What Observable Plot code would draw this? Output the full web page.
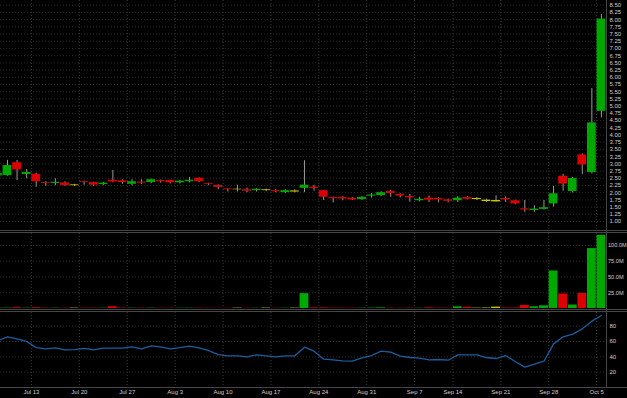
<!DOCTYPE html>
<html><head><meta charset="utf-8">
<script src="https://cdn.jsdelivr.net/npm/d3@7"></script>
<script src="https://cdn.jsdelivr.net/npm/@observablehq/plot@0.6"></script>
<style>
html,body{margin:0;padding:0;background:#000;}
#wrap{position:relative;width:627px;height:398px;background:#000;overflow:hidden;font-family:"Liberation Sans",Arial,sans-serif;}
.panel{position:absolute;left:0;width:627px;overflow:hidden;}
.sep{position:absolute;background:#464646;}
</style></head><body>
<div id="wrap">
  <div class="panel" id="price" style="top:0;height:230px"></div>
  <div class="sep" style="top:230px;left:0;width:627px;height:1px"></div>
  <div class="sep" style="top:232px;left:0;width:627px;height:1px"></div>
  <div class="panel" id="volume" style="top:233px;height:76px"></div>
  <div class="sep" style="top:309px;left:0;width:627px;height:1px"></div>
  <div class="sep" style="top:311px;left:0;width:627px;height:1px"></div>
  <div class="panel" id="rsi" style="top:312px;height:86px"></div>
  <div class="sep" style="top:387px;left:0;width:627px;height:1px"></div>
  <div class="sep" style="top:0;left:606px;width:1px;height:388px"></div>
</div>
<script>
const dates = [
 "07-07","07-08","07-09","07-10",
 "07-13","07-14","07-15","07-16","07-17",
 "07-20","07-21","07-22","07-23","07-24",
 "07-27","07-28","07-29","07-30","07-31",
 "08-03","08-04","08-05","08-06","08-07",
 "08-10","08-11","08-12","08-13","08-14",
 "08-17","08-18","08-19","08-20","08-21",
 "08-24","08-25","08-26","08-27","08-28",
 "08-31","09-01","09-02","09-03","09-04",
 "09-08","09-09","09-10","09-11",
 "09-14","09-15","09-16","09-17","09-18",
 "09-21","09-22","09-23","09-24","09-25",
 "09-28","09-29","09-30","10-01","10-02",
 "10-05"];
const open = [
 2.58,2.59,3.04,2.63,
 2.64,2.35,2.32,2.34,2.24,
 2.38,2.35,2.28,2.43,2.41,
 2.29,2.37,2.35,2.42,2.42,
 2.34,2.38,2.50,2.31,2.25,
 2.13,2.10,2.10,2.07,2.07,
 2.07,2.00,2.02,2.15,2.19,
 2.07,1.83,1.83,1.81,1.76,
 1.88,1.90,2.04,1.94,1.87,
 1.72,1.81,1.80,1.75,
 1.72,1.83,1.76,1.69,1.68,
 1.80,1.72,1.44,1.38,1.42,
 1.61,2.57,2.04,3.31,2.70,
 4.82];
const high = [
 2.72,3.12,3.12,2.80,
 2.67,2.38,2.48,2.38,2.29,
 2.40,2.36,2.36,2.77,2.44,
 2.45,2.45,2.47,2.44,2.43,
 2.43,2.53,2.51,2.33,2.27,
 2.14,2.26,2.16,2.14,2.12,
 2.10,2.10,2.10,3.11,2.25,
 2.08,1.85,1.86,1.83,1.86,
 1.97,2.03,2.08,1.96,1.94,
 1.84,1.88,1.82,1.78,
 1.86,1.86,1.83,1.78,1.89,
 1.85,1.74,1.73,1.55,1.73,
 2.22,2.64,2.53,3.34,5.61,
 8.18];
const low = [
 2.52,2.57,2.42,2.48,
 2.19,2.22,2.24,2.22,2.21,
 2.26,2.22,2.24,2.34,2.29,
 2.23,2.28,2.31,2.33,2.30,
 2.30,2.34,2.35,2.24,2.10,
 2.02,2.02,2.00,2.02,2.03,
 2.00,1.97,1.99,2.00,2.05,
 1.73,1.65,1.72,1.73,1.73,
 1.81,1.86,1.84,1.82,1.67,
 1.68,1.66,1.65,1.65,
 1.66,1.75,1.73,1.66,1.67,
 1.66,1.58,1.32,1.32,1.40,
 1.50,2.05,1.99,2.62,2.65,
 4.59];
const close = [
 2.66,2.94,2.79,2.70,
 2.38,2.32,2.36,2.25,2.27,
 2.35,2.26,2.33,2.37,2.35,
 2.38,2.33,2.45,2.38,2.34,
 2.40,2.43,2.38,2.28,2.18,
 2.10,2.12,2.05,2.12,2.10,
 2.03,2.07,2.06,2.26,2.14,
 1.84,1.79,1.78,1.75,1.84,
 1.92,2.00,1.97,1.88,1.82,
 1.77,1.74,1.75,1.70,
 1.81,1.77,1.80,1.74,1.73,
 1.75,1.61,1.40,1.43,1.48,
 1.96,2.30,2.49,2.96,4.42,
 8.02];
// u = up (green), d = down (red), n = neutral (yellow)
const dir = [
 "u","u","d","u",
 "d","d","u","d","n",
 "d","d","u","d","d",
 "u","d","u","d","d",
 "u","u","d","d","d",
 "d","n","d","u","n",
 "d","u","n","u","d",
 "d","d","d","d","u",
 "u","u","d","d","d",
 "u","d","d","d",
 "u","d","n","n","n",
 "d","d","d","u","u",
 "u","d","u","d","u",
 "u"];
const volume = [ // millions
 0.5,0.6,1.2,0.5,
 1.2,0.5,0.5,0.5,0.6,
 0.5,0.5,0.5,2.8,0.6,
 0.5,0.6,0.5,0.5,0.4,
 0.4,0.5,0.5,0.4,0.4,
 0.4,0.6,0.4,0.4,0.6,
 0.4,0.5,0.6,23.5,1.0,
 1.0,0.5,0.5,0.4,0.5,
 0.6,1.0,0.5,0.4,0.5,
 0.4,1.0,0.5,0.5,
 2.7,1.8,0.6,0.8,2.2,
 0.8,0.8,4.8,2.7,4.3,
 59.5,23.0,5.5,24.0,95.0,
 116.0];
const rsi = [
 61,66,63.5,60,
 52,50.4,51.7,49,49.5,
 51,49,51.3,51.3,51.3,
 53,50.4,54.3,53,50.4,
 52,53.9,51.7,48.2,43,
 41.3,41.3,40,42.6,41.3,
 40,41.3,41.3,52.6,47.4,
 36.9,36.1,34.8,34.3,38.7,
 41.7,47.4,46.1,40.8,39.1,
 38.3,36,36.5,35.6,
 42.6,42.6,42.6,39.1,37.8,
 41.7,33.9,26.5,30.4,34.3,
 56.9,66.1,69.6,76.5,86.5,
 93.9];
const tickDates = ["07-13","07-20","07-27","08-03","08-10","08-17","08-24","08-31","09-08","09-14","09-21","09-28","10-05"];
const tickLabels = ["Jul 13","Jul 20","Jul 27","Aug 3","Aug 10","Aug 17","Aug 24","Aug 31","Sep 7","Sep 14","Sep 21","Sep 28","Oct 5"];
const priceTicks = [1.00,1.25,1.50,1.75,2.00,2.25,2.50,2.75,3.00,3.25,3.50,3.75,4.00,4.25,4.50,4.75,5.00,5.25,5.50,5.75,6.00,6.25,6.50,6.75,7.00,7.25,7.50,7.75,8.00,8.25,8.50];
const volumeTicks = [25,50,75,100];
const rsiTicks = [20,40,60,80];

const colors = {u: "#00a800", d: "#dc0000", n: "#c8c400"};
const rows = dates.map((d, i) => ({date: d, open: open[i], high: high[i], low: low[i], close: close[i], dir: dir[i], volume: volume[i], rsi: rsi[i]}));

const SHIFT = -4.79;
const xOpt = {type: "band", domain: dates, range: [-7.0, 605.35], paddingInner: 0.08, paddingOuter: 0};
const style = {background: "#000", color: "#cfcfcf", fontSize: "6px", fontFamily: "'Liberation Sans', Arial, sans-serif"};
const gridStyle = {stroke: "#3a3a3a", strokeOpacity: 1, strokeDasharray: "1,2", strokeWidth: 1};

const price = Plot.plot({
  width: 627, height: 230, marginLeft: 0, marginRight: 21, marginTop: 0, marginBottom: 0,
  style,
  x: {...xOpt, axis: null},
  y: {domain: [0.688, 8.663], axis: "right", ticks: priceTicks, tickFormat: d => d.toFixed(2), tickSize: 0, tickPadding: 3, label: null},
  marks: [
    Plot.ruleY(priceTicks, {...gridStyle, stroke: "#2a2a2a"}),
    Plot.ruleX(tickDates, {...gridStyle, dx: SHIFT}),
    Plot.ruleX(rows, {x: "date", y1: "low", y2: "high", stroke: "#9a9a9a", strokeWidth: 1, clip: true}),
    Plot.barY(rows, {x: "date", y1: "open", y2: "close", fill: d => colors[d.dir], clip: true})
  ]
});
document.getElementById("price").appendChild(price);

const vol = Plot.plot({
  width: 627, height: 76, marginLeft: 0, marginRight: 21, marginTop: 0, marginBottom: 1,
  style: {...style, fontSize: "5.6px"},
  x: {...xOpt, axis: null},
  y: {domain: [0, 118.9], axis: "right", ticks: volumeTicks, tickFormat: d => d.toFixed(1) + "M", tickSize: 0, tickPadding: 1.5, label: null},
  marks: [
    Plot.ruleY(volumeTicks, {...gridStyle, stroke: "#2a2a2a"}),
    Plot.ruleX(tickDates, {...gridStyle, dx: SHIFT}),
    Plot.barY(rows, {x: "date", y: "volume", fill: d => colors[d.dir], clip: true})
  ]
});
document.getElementById("volume").appendChild(vol);

const rsiPlot = Plot.plot({
  width: 627, height: 86, marginLeft: 0, marginRight: 21, marginTop: 0, marginBottom: 11,
  style,
  x: {...xOpt, axis: null},
  y: {domain: [0, 97.8], axis: "right", ticks: rsiTicks, tickFormat: d => String(d), tickSize: 0, tickPadding: 3, label: null},
  marks: [
    Plot.ruleY(rsiTicks, {...gridStyle, stroke: "#2a2a2a"}),
    Plot.ruleX(tickDates, {...gridStyle, dx: SHIFT}),
    Plot.line(rows, {x: "date", y: "rsi", stroke: "#1c5e9e", strokeWidth: 1.3, clip: true}),
    Plot.axisX(tickDates, {tickSize: 0, tickPadding: 2, dx: SHIFT, tickFormat: d => tickLabels[tickDates.indexOf(d)], label: null})
  ]
});
document.getElementById("rsi").appendChild(rsiPlot);
</script>
</body></html>
